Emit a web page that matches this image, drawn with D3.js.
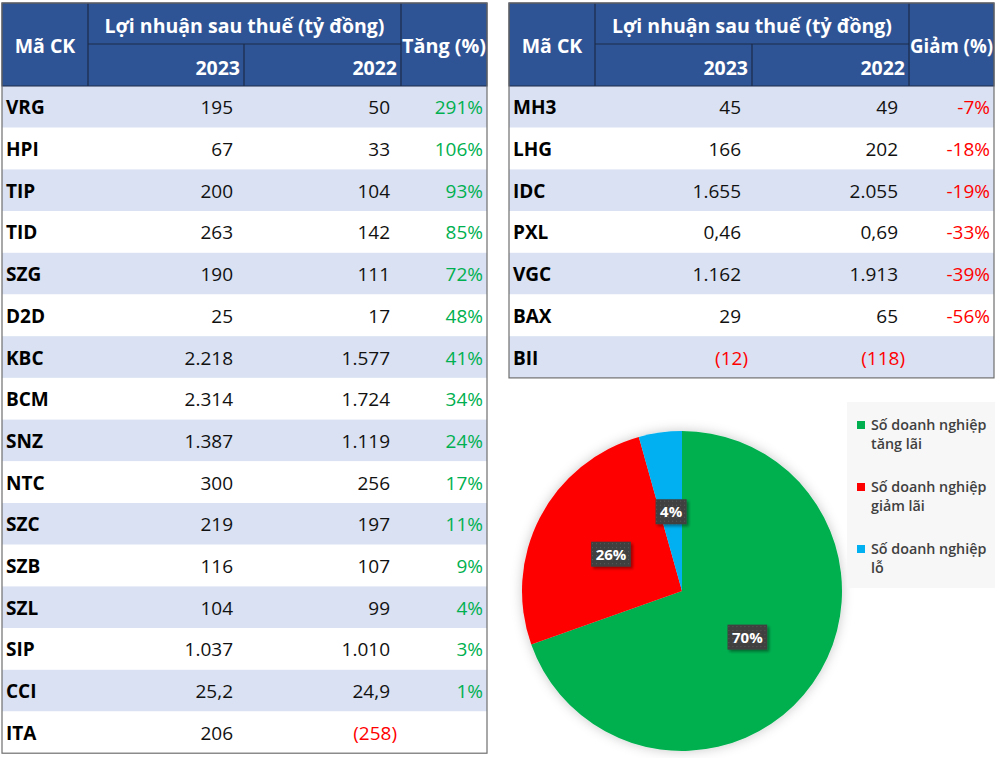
<!DOCTYPE html>
<html>
<head>
<meta charset="utf-8">
<script src="https://cdn.jsdelivr.net/npm/d3@7"></script>
<style>
  body { margin: 0; background: #fff; }
  svg { display: block; font-family: "Open Sans", "Noto Sans", sans-serif; }
</style>
</head>
<body>
<svg id="chart" width="1000" height="758"></svg>
<script>
// ---- data ----
var upCodes = ["VRG", "HPI", "TIP", "TID", "SZG", "D2D", "KBC", "BCM", "SNZ", "NTC", "SZC", "SZB", "SZL", "SIP", "CCI", "ITA"];
var up2023 = [195, 67, 200, 263, 190, 25, 2218, 2314, 1387, 300, 219, 116, 104, 1037, 25.2, 206];
var up2022 = [50, 33, 104, 142, 111, 17, 1577, 1724, 1119, 256, 197, 107, 99, 1010, 24.9, -258];
var upPct = [291, 106, 93, 85, 72, 48, 41, 34, 24, 17, 11, 9, 4, 3, 1, null];

var downCodes = ["MH3", "LHG", "IDC", "PXL", "VGC", "BAX", "BII"];
var down2023 = [45, 166, 1655, 0.46, 1162, 29, -12];
var down2022 = [49, 202, 2055, 0.69, 1913, 65, -118];
var downPct = [-7, -18, -19, -33, -39, -56, null];

var pieLabels = ["Số doanh nghiệp tăng lãi", "Số doanh nghiệp giảm lãi", "Số doanh nghiệp lỗ"];
var pieCounts = [16, 6, 1];
var pieColors = ["#00b050", "#ff0000", "#00b0f0"];

var headTitle = "Lợi nhuận sau thuế (tỷ đồng)";
var years = ["2023", "2022"];

// ---- formatting (vi-VN style) ----
var vi = d3.formatLocale({decimal: ",", thousands: ".", grouping: [3], currency: ["", ""]});
function fmtNum(v) {
    var a = Math.abs(v);
    var s = Number.isInteger(a) ? vi.format(",d")(a) : (a < 1 ? vi.format(".2f")(a) : vi.format(".1f")(a));
    return v < 0 ? "(" + s + ")" : s;
}

var svg = d3.select("#chart");
var defs = svg.append("defs");

var shadow = defs.append("filter").attr("id", "soft").attr("x", "-20%").attr("y", "-20%").attr("width", "140%").attr("height", "140%");
shadow.append("feDropShadow").attr("dx", 0).attr("dy", 0).attr("stdDeviation", 6)
    .attr("flood-color", "#000").attr("flood-opacity", 0.22);

var lblShadow = defs.append("filter").attr("id", "lblShadow").attr("x", "-30%").attr("y", "-30%").attr("width", "170%").attr("height", "170%");
lblShadow.append("feDropShadow").attr("dx", 2).attr("dy", 2).attr("stdDeviation", 1.5)
    .attr("flood-color", "#000").attr("flood-opacity", 0.4);

var dots = defs.append("pattern").attr("id", "dots").attr("width", 4).attr("height", 4).attr("patternUnits", "userSpaceOnUse");
dots.append("rect").attr("width", 4).attr("height", 4).attr("fill", "#404040");
dots.append("rect").attr("x", 1).attr("y", 1).attr("width", 1).attr("height", 1).attr("fill", "#595959");

// ---- tables ----
function drawTable(opt) {
    var g = svg.append("g");
    var cx = opt.cols; // column edges
    var headTop = 3, headMid = 44, headBot = 86;

    var y = d3.scaleBand()
        .domain(opt.codes)
        .range([headBot, headBot + opt.codes.length * 41.7]);

    // zebra rows
    g.selectAll("rect.row")
        .data(opt.codes)
        .enter().append("rect")
        .attr("x", cx[0]).attr("width", cx[4] - cx[0])
        .attr("y", function (d) { return y(d); })
        .attr("height", y.bandwidth())
        .attr("fill", function (d, i) { return i % 2 === 0 ? "#d9e1f2" : "#ffffff"; });

    // header
    g.append("rect")
        .attr("x", cx[0]).attr("y", headTop)
        .attr("width", cx[4] - cx[0]).attr("height", headBot - headTop)
        .attr("fill", "#2f5496").attr("stroke", "#1c2a48").attr("stroke-width", 1);

    var lines = [
        [cx[1], headMid, cx[3], headMid],
        [cx[1], headTop, cx[1], headBot],
        [cx[2], headMid, cx[2], headBot],
        [cx[3], headTop, cx[3], headBot]
    ];
    g.selectAll("line.hd")
        .data(lines)
        .enter().append("line")
        .attr("x1", function (d) { return d[0]; }).attr("y1", function (d) { return d[1]; })
        .attr("x2", function (d) { return d[2]; }).attr("y2", function (d) { return d[3]; })
        .attr("stroke", "#1c2a48").attr("stroke-width", 1.2);

    var ht = g.append("g").attr("fill", "#fff").attr("font-weight", 700).attr("font-size", 19.5);
    ht.append("text").attr("x", (cx[0] + cx[1]) / 2).attr("y", 53).attr("text-anchor", "middle").text("Mã CK");
    ht.append("text").attr("x", (cx[1] + cx[3]) / 2).attr("y", 33).attr("text-anchor", "middle").text(headTitle);
    ht.append("text").attr("x", cx[2] - 4).attr("y", 75).attr("text-anchor", "end").text(years[0]);
    ht.append("text").attr("x", cx[3] - 4).attr("y", 75).attr("text-anchor", "end").text(years[1]);
    ht.append("text").attr("x", (cx[3] + cx[4]) / 2).attr("y", 53).attr("text-anchor", "middle")
        .attr("textLength", cx[4] - cx[3] - 2).attr("lengthAdjust", "spacingAndGlyphs").text(opt.pctTitle);

    // body cells
    var rows = g.selectAll("g.r")
        .data(opt.codes.map(function (c, i) {
            return {code: c, a: opt.v2023[i], b: opt.v2022[i], p: opt.pct[i]};
        }))
        .enter().append("g")
        .attr("transform", function (d) { return "translate(0," + (y(d.code) + y.bandwidth() / 2 + 7.5) + ")"; })
        .attr("font-size", 19);

    rows.append("text").attr("x", cx[0] + 4).attr("font-weight", 700).attr("fill", "#000")
        .text(function (d) { return d.code; });

    function numCell(key, edge) {
        rows.append("text")
            .attr("x", function (d) { return d[key] < 0 ? edge - 4 : edge - 11; })
            .attr("text-anchor", "end")
            .attr("fill", function (d) { return d[key] < 0 ? "#ff0000" : "#111"; })
            .text(function (d) { return fmtNum(d[key]); });
    }
    numCell("a", cx[2]);
    numCell("b", cx[3]);

    rows.append("text").attr("x", cx[4] - 4).attr("text-anchor", "end")
        .attr("fill", opt.pctColor)
        .text(function (d) { return d.p === null ? "" : d.p + "%"; });

    // outer border
    g.append("rect")
        .attr("x", cx[0]).attr("y", headTop)
        .attr("width", cx[4] - cx[0]).attr("height", y.range()[1] - headTop)
        .attr("fill", "none").attr("stroke", "#6f6f6f").attr("stroke-width", 1.2);
}

drawTable({codes: upCodes, v2023: up2023, v2022: up2022, pct: upPct,
    cols: [2, 88, 244, 401, 487], pctTitle: "Tăng (%)", pctColor: "#00b050"});
drawTable({codes: downCodes, v2023: down2023, v2022: down2022, pct: downPct,
    cols: [509, 595, 752, 909, 994], pctTitle: "Giảm (%)", pctColor: "#ff0000"});

// ---- pie ----
var radius = 160;
var pg = svg.append("g").attr("transform", "translate(682,591)");
var pie = d3.pie().sort(null)(pieCounts);
var total = d3.sum(pieCounts);
var arc = d3.arc().innerRadius(0).outerRadius(radius);
var labelArc = d3.arc().innerRadius(radius * 0.5).outerRadius(radius * 0.5);

pg.append("g").attr("filter", "url(#soft)")
    .selectAll("path")
    .data(pie)
    .enter().append("path")
    .attr("d", arc)
    .attr("fill", function (d, i) { return pieColors[i]; });

var lbl = pg.selectAll("g.lbl")
    .data(pie)
    .enter().append("g")
    .attr("transform", function (d) { return "translate(" + labelArc.centroid(d) + ")"; });

lbl.append("rect").attr("class", "box");
lbl.append("text")
    .attr("text-anchor", "middle")
    .attr("y", 5.5)
    .attr("fill", "#fff").attr("font-weight", 700).attr("font-size", 15)
    .text(function (d) { return Math.round(d.value / total * 100) + "%"; });
lbl.each(function () {
    var w = d3.select(this).select("text").node().getComputedTextLength() + 9;
    d3.select(this).select("rect")
        .attr("x", -w / 2).attr("y", -12.5).attr("width", w).attr("height", 25)
        .attr("fill", "url(#dots)").attr("filter", "url(#lblShadow)");
});

// ---- legend ----
var lg = svg.append("g");
lg.append("rect").attr("x", 847).attr("y", 402).attr("width", 148).attr("height", 186).attr("fill", "#f7f7f7");

var item = lg.selectAll("g.it")
    .data(pieLabels)
    .enter().append("g")
    .attr("transform", function (d, i) { return "translate(857," + (430 + i * 62) + ")"; });

item.append("rect").attr("x", 0).attr("y", -9).attr("width", 8).attr("height", 8)
    .attr("fill", function (d, i) { return pieColors[i]; });

item.append("text")
    .attr("fill", "#404040").attr("font-size", 14.3).attr("font-weight", 600)
    .each(function (d) {
        var words = d.split(" ");
        var t = d3.select(this);
        t.append("tspan").attr("x", 14).attr("y", 0).text(words.slice(0, 3).join(" "));
        t.append("tspan").attr("x", 14).attr("y", 19).text(words.slice(3).join(" "));
    });
</script>
</body>
</html>
